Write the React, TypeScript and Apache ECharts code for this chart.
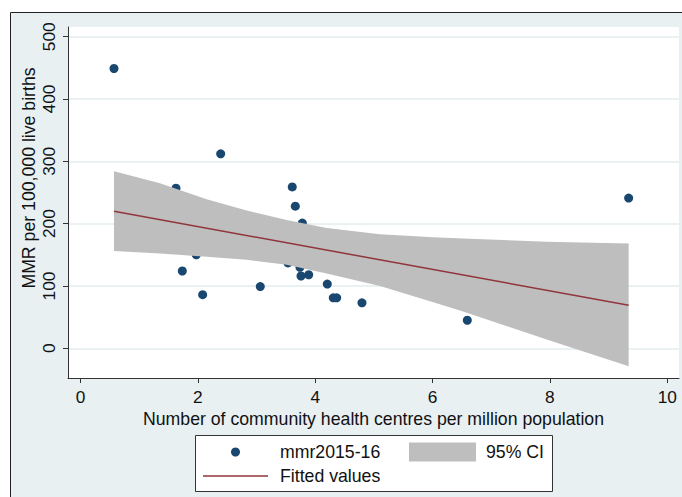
import React, { useEffect, useRef } from 'react';
import * as echarts from 'echarts';

// Scatter: number of community health centres per million population vs MMR
const mmrX = [0.571, 2.389, 1.627, 3.609, 3.661, 3.78, 1.973, 1.735, 2.082, 3.064, 3.536, 3.74, 3.758, 3.889, 4.206, 4.308, 4.366, 4.797, 6.592, 9.342, 5.257];
const mmrY = [449, 312, 257, 259, 228, 201, 150, 124, 86, 99, 137, 130, 116, 118, 103, 81, 81, 73, 45, 241, 172];

// Fitted values (linear fit)
const fitX = [0.571, 9.342];
const fitY = [220, 69];

// 95% confidence band
const ciX = [0.571, 1.355, 2.151, 2.832, 3.514, 4.196, 5.104, 6.012, 6.52, 7.945, 9.342];
const ciUpper = [284, 265, 239, 221, 206, 193, 183, 178, 176, 171, 168];
const ciLower = [156, 152, 147, 142, 134, 120, 100, 74, 59, 14, -29];

const xTicks = [0, 2, 4, 6, 8, 10];
const yTicks = [0, 100, 200, 300, 400, 500];

const FONT = "'Liberation Sans', Arial, sans-serif";

export default function App() {
  const ref = useRef<HTMLDivElement>(null);

  useEffect(() => {
    document.body.style.margin = '0';
    const chart = echarts.init(ref.current as HTMLDivElement, null, { renderer: 'svg' });
    const tick = { fontSize: 17.3, color: '#111', fontFamily: FONT };
    const txt = { fontSize: 17.7, color: '#111', fontFamily: FONT };

    const option: any = {
      animation: false,
      backgroundColor: '#ffffff',
      graphic: [
        {
          type: 'rect',
          z: -5,
          silent: true,
          shape: { x: 10.5, y: 12.5, width: 700, height: 520 },
          style: { fill: '#e8f0f2', stroke: '#222', lineWidth: 1 },
        },
        {
          type: 'rect',
          z: 1,
          silent: true,
          shape: { x: 195.5, y: 435.5, width: 357, height: 56 },
          style: { fill: '#ffffff', stroke: '#333', lineWidth: 1 },
        },
      ],
      grid: {
        left: 68,
        top: 27,
        right: 3,
        bottom: 119,
        show: true,
        backgroundColor: '#ffffff',
        borderWidth: 0,
        z: 0,
      },
      xAxis: {
        type: 'value',
        min: -0.213,
        max: 10.2,
        axisLine: { show: true, onZero: false, lineStyle: { color: '#333', width: 1 } },
        axisTick: { show: true, length: 5, customValues: xTicks, lineStyle: { color: '#333' } },
        axisLabel: { customValues: xTicks, margin: 10, ...tick },
        splitLine: { show: false },
        name: 'Number of community health centres per million population',
        nameLocation: 'middle',
        nameGap: 20,
        nameTextStyle: { ...txt },
      },
      yAxis: {
        type: 'value',
        min: -47.7,
        max: 515.6,
        axisLine: { show: true, onZero: false, lineStyle: { color: '#333', width: 1 } },
        axisTick: { show: true, length: 5, customValues: yTicks, lineStyle: { color: '#333' } },
        axisLabel: { customValues: yTicks, rotate: 90, margin: 11, ...tick },
        splitLine: { show: true, lineStyle: { color: '#e2ecef', width: 1.5 } },
        name: 'MMR per 100,000 live births',
        nameLocation: 'middle',
        nameRotate: 90,
        nameMoveOverlap: false,
        nameGap: 30,
        nameTextStyle: { ...txt, padding: [0, 0, 0, 49] },
      },
      legend: [
        {
          data: [{ name: 'mmr2015-16' }],
          left: 231,
          top: 442,
          padding: 0,
          itemWidth: 65,
          itemHeight: 9,
          selectedMode: false,
          textStyle: { ...txt, lineHeight: 20, padding: [0, 0, 0, 7] },
        },
        {
          data: [{ name: '95% CI', icon: 'rect', itemStyle: { color: '#bebebe' } }],
          left: 409,
          top: 442,
          padding: 0,
          itemWidth: 67,
          itemHeight: 19,
          selectedMode: false,
          textStyle: { ...txt, lineHeight: 20, padding: [0, 0, 0, 5] },
        },
        {
          data: [{ name: 'Fitted values', icon: 'rect', itemStyle: { color: '#90353b' } }],
          left: 203,
          top: 466,
          padding: 0,
          itemWidth: 65,
          itemHeight: 1.6,
          selectedMode: false,
          textStyle: { ...txt, lineHeight: 20, padding: [0, 0, 0, 7] },
        },
      ],
      series: [
        {
          name: 'mmr2015-16',
          type: 'scatter',
          z: 2,
          symbol: 'circle',
          symbolSize: 9,
          itemStyle: { color: '#1a476f', opacity: 1 },
          data: mmrX.map((x, i) => [x, mmrY[i]]),
        },
        {
          name: '95% CI',
          type: 'custom',
          z: 3,
          itemStyle: { color: '#bebebe' },
          data: ciX.map((x, i) => [x, ciLower[i], ciUpper[i]]),
          encode: { x: 0, y: [1, 2] },
          renderItem: (params: any, api: any) => {
            if (params.dataIndex !== 0) return null;
            const top = ciX.map((x, i) => api.coord([x, ciUpper[i]]));
            const bottom = ciX.map((x, i) => api.coord([x, ciLower[i]])).reverse();
            return {
              type: 'polygon',
              shape: { points: top.concat(bottom) },
              style: { fill: '#bebebe', stroke: 'none' },
            };
          },
        },
        {
          name: 'Fitted values',
          type: 'line',
          z: 4,
          symbol: 'none',
          showSymbol: false,
          itemStyle: { color: '#90353b' },
          lineStyle: { color: '#90353b', width: 1.5 },
          data: fitX.map((x, i) => [x, fitY[i]]),
        },
      ],
    };

    chart.setOption(option);
    return () => chart.dispose();
  }, []);

  return <div ref={ref} style={{ width: 682, height: 497 }} />;
}
